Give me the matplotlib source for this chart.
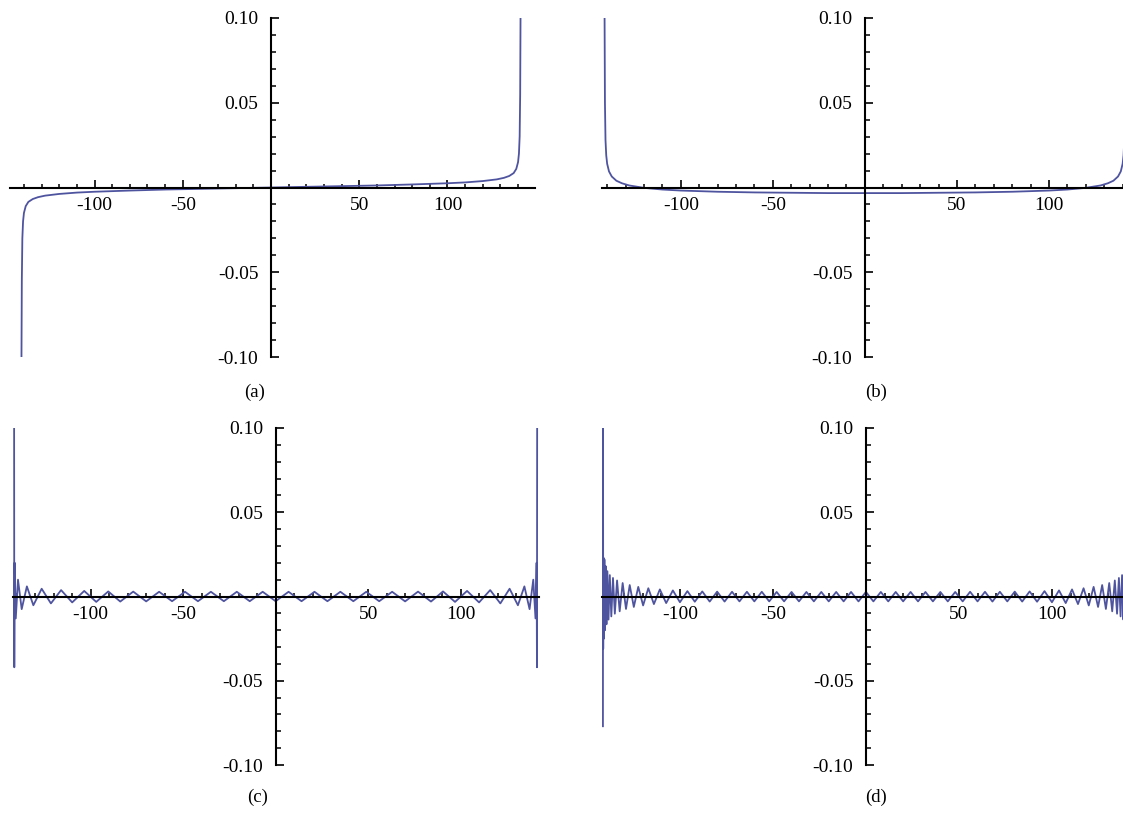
import matplotlib
matplotlib.use("Agg")
import matplotlib.pyplot as plt
import numpy as np
from matplotlib.ticker import FixedLocator, FixedFormatter

plt.rcParams.update(
    {
        "font.family": ["Liberation Serif", "DejaVu Serif"],
        "axes.unicode_minus": False,
        "font.size": 13,
    }
)

# ---- data ----
A_X = [-141.4, -141.2, -140.9, -140.5, -140.0, -139.0, -137.5, -135.0, -132.0, -128.0,
       -120.0, -110.0, -100.0, -80.0, -60.0, -40.0, -20.0, 0.0, 20.0, 40.0, 60.0, 80.0,
       100.0, 110.0, 120.0, 128.0, 132.0, 135.0, 137.5, 139.0, 140.0, 140.5, 140.9,
       141.2, 141.4]
A_Y = [-0.100, -0.055, -0.030, -0.020, -0.015, -0.011, -0.0085, -0.0068, -0.0057, -0.0048,
       -0.0038, -0.0030, -0.0025, -0.0018, -0.0012, -0.0008, -0.0004, 0.0, 0.0004, 0.0008,
       0.0012, 0.0018, 0.0025, 0.0030, 0.0038, 0.0048, 0.0057, 0.0068, 0.0085, 0.011,
       0.015, 0.020, 0.030, 0.055, 0.100]

B_X = [-141.4, -141.2, -140.9, -140.5, -140.0, -139.0, -137.5, -135.0, -132.0, -128.0,
       -120.0, -110.0, -100.0, -80.0, -60.0, -40.0, -20.0, 0.0, 20.0, 40.0, 60.0, 80.0,
       100.0, 110.0, 120.0, 128.0, 132.0, 135.0, 137.5, 139.0, 140.0, 140.5, 140.9,
       141.2, 141.4]
B_Y = [0.100, 0.050, 0.028, 0.019, 0.014, 0.0095, 0.0065, 0.0040, 0.0025, 0.0012,
       -0.0002, -0.0012, -0.0018, -0.0025, -0.0029, -0.0031, -0.0033, -0.0033, -0.0033,
       -0.0031, -0.0029, -0.0025, -0.0018, -0.0012, -0.0002, 0.0012, 0.0025, 0.0040,
       0.0065, 0.0095, 0.014, 0.019, 0.028, 0.050, 0.100]

# (c): extrema of the oscillation, left to right
C_X = [-141.4, -141.3, -141.1, -140.5, -139.3, -137.3, -134.5, -131.0, -126.5, -121.5,
       -116.0, -110.0, -103.5, -97.0, -90.5, -84.0, -77.0, -70.0, -63.0, -56.0,
       -49.0, -42.0, -35.0, -28.0, -21.0, -14.0, -7.0,
       0.0,
       7.0, 14.0, 21.0, 28.0, 35.0, 42.0, 49.0, 56.0, 63.0, 70.0,
       77.0, 84.0, 90.5, 97.0, 103.5, 110.0, 116.0, 121.5, 126.5, 131.0,
       134.5, 137.3, 139.3, 140.5, 141.1, 141.3, 141.4]
C_Y = [0.100, -0.042, 0.020, -0.013, 0.010, -0.0075, 0.0060, -0.0052, 0.0046, -0.0041,
       0.0038, -0.0035, 0.0033, -0.0032, 0.0030, -0.0030, 0.0029, -0.0029, 0.0028, -0.0028,
       0.0028, -0.0028, 0.0028, -0.0028, 0.0028, -0.0028, 0.0028,
       -0.0028,
       0.0028, -0.0028, 0.0028, -0.0028, 0.0028, -0.0028, 0.0028, -0.0028, 0.0028, -0.0029,
       0.0029, -0.0030, 0.0030, -0.0032, 0.0033, -0.0035, 0.0038, -0.0041, 0.0046, -0.0052,
       0.0060, -0.0075, 0.010, -0.013, 0.020, -0.042, 0.100]

# (d): extrema of the faster oscillation, left to right
D_X = [-141.4, -141.35, -141.25, -141.1, -140.9, -140.6, -140.3, -139.9, -139.5, -139.0,
       -138.4, -137.7, -136.9, -136.0, -135.0, -133.8, -132.4, -130.8, -129.0, -127.0,
       -124.8, -122.4, -119.8, -117.0, -114.0, -110.8, -107.4, -103.8,
       -100.0, -96.0, -92.0, -88.0, -84.0, -80.0, -76.0, -72.0, -68.0, -64.0, -60.0,
       -56.0, -52.0, -48.0, -44.0, -40.0, -36.0, -32.0, -28.0, -24.0, -20.0, -16.0,
       -12.0, -8.0, -4.0,
       0.0,
       4.0, 8.0, 12.0, 16.0, 20.0, 24.0, 28.0, 32.0, 36.0, 40.0, 44.0, 48.0, 52.0,
       56.0, 60.0, 64.0, 68.0, 72.0, 76.0, 80.0, 84.0, 88.0, 92.0, 96.0, 100.0,
       103.8, 107.4, 110.8, 114.0, 117.0, 119.8, 122.4, 124.8, 127.0, 129.0,
       130.8, 132.4, 133.8, 135.0, 136.0, 136.9, 137.7, 138.4, 139.0, 139.5,
       139.9, 140.3, 140.6, 140.9, 141.1, 141.25, 141.35, 141.4]
D_Y = [-0.077, 0.100, -0.031, 0.023, -0.025, 0.022, -0.020, 0.018, -0.0165, 0.0150,
       -0.0137, 0.0127, -0.0118, 0.0110, -0.0102, 0.0095, -0.0088, 0.0080, -0.0074, 0.0068,
       -0.0062, 0.0057, -0.0053, 0.0049, -0.0045, 0.0042, -0.0039, 0.0036,
       -0.0034, 0.0032, -0.0031, 0.0030, -0.0030, 0.0029, -0.0030, 0.0028, -0.0029, 0.0028,
       -0.0029, 0.0028, -0.0029, 0.0027, -0.0029, 0.0027, -0.0029, 0.0027, -0.0029,
       0.0027, -0.0029, 0.0027, -0.0029, 0.0027, -0.0029,
       0.0027,
       -0.0029, 0.0027, -0.0029, 0.0027, -0.0029, 0.0027, -0.0029, 0.0027, -0.0029,
       0.0027, -0.0029, 0.0027, -0.0029, 0.0028, -0.0029, 0.0028, -0.0030, 0.0028,
       -0.0029, 0.0029, -0.0030, 0.0030, -0.0031, 0.0032, -0.0034,
       0.0036, -0.0039, 0.0042, -0.0045, 0.0049, -0.0053, 0.0057, -0.0062, 0.0068,
       -0.0074, 0.0080, -0.0088, 0.0095, -0.0102, 0.0110, -0.0118, 0.0127, -0.0137,
       0.0150, -0.0165, 0.018, -0.020, 0.022, -0.025, 0.023, -0.031, 0.100, -0.077]

X_TICKS = [-100, -50, 50, 100]
X_TICK_LABELS = ["-100", "-50", "50", "100"]
Y_TICKS = [-0.10, -0.05, 0.05, 0.10]
Y_TICK_LABELS = ["-0.10", "-0.05", "0.05", "0.10"]
PANEL_LABELS = ["(a)", "(b)", "(c)", "(d)"]

# ---- layout (pixels of the 1123x816 canvas) ----
W, H = 1123, 816
LINE_COLOR = "#4f549f"

# curve, axes box (x0, x1, top, bottom), xlim, label position
PANELS = [
    (A_X, A_Y, (10, 535, 18, 357), (-147.9, 149.6), (255, 392)),
    (B_X, B_Y, (602, 1123, 18, 357), (-142.8, 140.2), (876, 392)),
    (C_X, C_Y, (13, 539, 428, 765), (-142.0, 142.4), (258, 797)),
    (D_X, D_Y, (602, 1123, 428, 765), (-141.9, 138.2), (876, 797)),
]


def px_rect(x0, x1, top, bottom):
    return [x0 / W, 1 - bottom / H, (x1 - x0) / W, (bottom - top) / H]


fig = plt.figure(figsize=(W / 100, H / 100), dpi=100)

for (xs, ys, box, xlim, lab_pos), label in zip(PANELS, PANEL_LABELS):
    ax = fig.add_axes(px_rect(*box))
    ax.plot(xs, ys, color=LINE_COLOR, linewidth=1.3, solid_joinstyle="round")
    ax.set_xlim(*xlim)
    ax.set_ylim(-0.1, 0.1)
    ax.patch.set_visible(False)

    ax.spines[["top", "right"]].set_visible(False)
    for side in ("left", "bottom"):
        ax.spines[side].set_position(("data", 0))
        ax.spines[side].set_linewidth(1.5)
        ax.spines[side].set_zorder(5)

    ax.xaxis.set_major_locator(FixedLocator(X_TICKS))
    ax.xaxis.set_major_formatter(FixedFormatter(X_TICK_LABELS))
    ax.xaxis.set_minor_locator(FixedLocator(np.arange(-140, 141, 10)))
    ax.yaxis.set_major_locator(FixedLocator(Y_TICKS))
    ax.yaxis.set_major_formatter(FixedFormatter(Y_TICK_LABELS))
    ax.yaxis.set_minor_locator(FixedLocator(np.round(np.arange(-0.09, 0.095, 0.01), 2)))

    ax.tick_params(axis="x", which="major", direction="in", length=5.5, width=1.2,
                   pad=7, labelsize=14)
    ax.tick_params(axis="x", which="minor", direction="in", length=3.0, width=1.1)
    ax.tick_params(axis="y", which="major", direction="in", length=6.0, width=1.2,
                   pad=9, labelsize=14)
    ax.tick_params(axis="y", which="minor", direction="in", length=3.8, width=1.1)

    fig.text(lab_pos[0] / W, 1 - lab_pos[1] / H, label, ha="center", va="center",
             fontsize=13.5)

fig.savefig("out.png", dpi=100)
